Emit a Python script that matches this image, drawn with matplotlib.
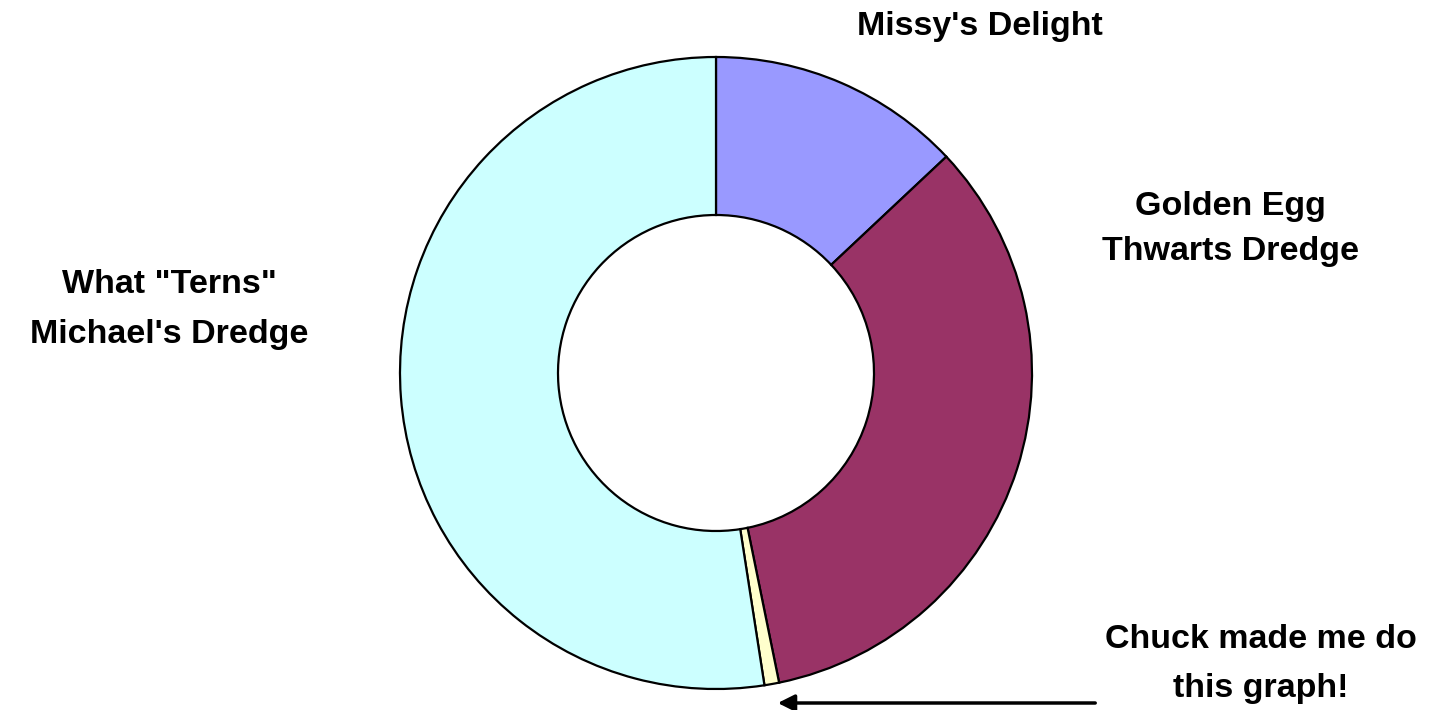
import matplotlib.pyplot as plt

labels = [["Missy's Delight"],
          ["Golden Egg", "Thwarts Dredge"],
          ["Chuck made me do", "this graph!"],
          ["What \"Terns\"", "Michael's Dredge"]]
values = [13.0, 33.8, 0.75, 52.45]
colors = ["#9999FF", "#993366", "#FFFFCC", "#CCFFFF"]

W, H = 1439, 710
fig = plt.figure(figsize=(W / 100, H / 100), dpi=100)
ax = fig.add_axes([0, 0, 1, 1])

# donut drawn in pixel coordinates (y up)
ax.pie(values, colors=colors, startangle=90, counterclock=False,
       center=(716, H - 373), radius=316, frame=True,
       wedgeprops=dict(width=158, edgecolor="black", linewidth=1.6))
ax.set_xlim(0, W)
ax.set_ylim(0, H)
ax.axis("off")

# label anchor: centre x and baseline of each line (pixels from top)
label_x = [980, 1230, 1261, 169]
label_base = [[35], [215, 260], [648, 697], [293, 343]]

font = dict(family="Liberation Sans", weight="bold", fontsize=24.5,
            ha="center", va="baseline")
for lines, x, bases in zip(labels, label_x, label_base):
    for line, y in zip(lines, bases):
        ax.text(x, H - y, line, **font)

ax.annotate("", xy=(775, H - 703), xytext=(1098, H - 703),
            arrowprops=dict(arrowstyle="-|>", color="black", lw=2.5,
                            mutation_scale=25))

fig.savefig("out.png", dpi=100)
